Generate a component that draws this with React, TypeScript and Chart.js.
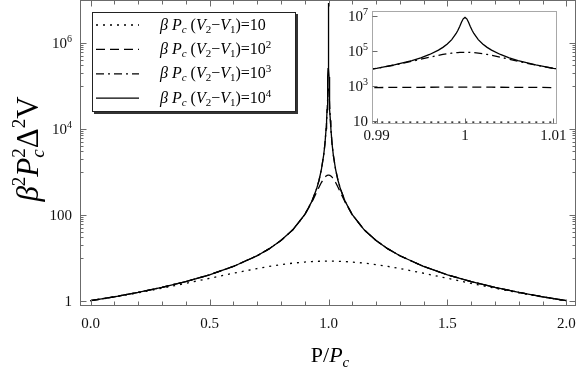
import React, { useEffect, useRef } from "react";
import { Chart, registerables } from "chart.js";
Chart.register(...registerables);

// ---------- data ----------
const xs = [0, 0.1, 0.2, 0.3, 0.4, 0.5, 0.6, 0.7, 0.75, 0.8, 0.85, 0.9, 0.93, 0.95, 0.96, 0.97, 0.98, 0.985, 0.99, 0.992, 0.994, 0.995, 0.996, 0.997, 0.9975, 0.998, 0.9985, 0.999, 0.9992, 0.9994, 0.9996, 0.9998,
  1,
  1.0002, 1.0004, 1.0006, 1.0008, 1.001, 1.0015, 1.002, 1.0025, 1.003, 1.004, 1.005, 1.006, 1.008, 1.01, 1.015, 1.02, 1.03, 1.04, 1.05, 1.07, 1.1, 1.15, 1.2, 1.25, 1.3, 1.4, 1.5, 1.6, 1.7, 1.8, 1.9, 2];

const s10 = [0.9955, 1.222, 1.529, 1.949, 2.529, 3.317, 4.349, 5.597, 6.258, 6.898, 7.473, 7.933, 8.133, 8.230, 8.267, 8.296, 8.317, 8.324, 8.329, 8.331, 8.332, 8.332, 8.333, 8.333, 8.333, 8.333, 8.333, 8.333, 8.333, 8.333, 8.333, 8.333,
  8.333,
  8.333, 8.333, 8.333, 8.333, 8.333, 8.333, 8.333, 8.333, 8.333, 8.333, 8.332, 8.332, 8.331, 8.329, 8.324, 8.317, 8.296, 8.267, 8.230, 8.133, 7.933, 7.473, 6.898, 6.258, 5.597, 4.349, 3.317, 2.529, 1.949, 1.529, 1.222, 0.9955];

const s100 = [1, 1.2346, 1.5625, 2.0408, 2.7778, 4, 6.25, 11.111, 16, 25, 44.44, 99.55, 194.9, 331.7, 434.9, 559.7, 689.8, 747.3, 793.3, 807.3, 818.5, 822.9, 826.7, 829.6, 830.7, 831.7, 832.4, 832.9, 833.1, 833.2, 833.3, 833.3,
  833.3,
  833.3, 833.3, 833.2, 833.1, 832.9, 832.4, 831.7, 830.7, 829.6, 826.7, 822.9, 818.5, 807.3, 793.3, 747.3, 689.8, 559.7, 434.9, 331.7, 194.9, 99.55, 44.44, 25, 16, 11.111, 6.25, 4, 2.7778, 2.0408, 1.5625, 1.2346, 1];

const s1000 = [1, 1.2346, 1.5625, 2.0408, 2.7778, 4, 6.25, 11.111, 16, 25, 44.44, 100, 204.08, 400, 625, 1111.1, 2500, 4444.1, 9954.6, 15289, 25287, 33170, 43495, 55970, 62577, 68985, 74730, 79327, 80734, 81855, 82667, 83167,
  83333,
  83167, 82667, 81855, 80734, 79327, 74730, 68985, 62577, 55970, 43495, 33170, 25287, 15289, 9954.6, 4444.1, 2500, 1111.1, 625, 400, 204.08, 100, 44.44, 25, 16, 11.111, 6.25, 4, 2.7778, 2.0408, 1.5625, 1.2346, 1];

const s10000 = [1, 1.2346, 1.5625, 2.0408, 2.7778, 4, 6.25, 11.111, 16, 25, 44.444, 100, 204.08, 400, 625, 1111.1, 2500, 4444.4, 10000, 15625, 27778, 40000, 62500, 111111, 160000, 250000, 444414, 995460, 1528900, 2528700, 4349500, 6898500,
  8333300,
  6898500, 4349500, 2528700, 1528900, 995460, 444414, 250000, 160000, 111111, 62500, 40000, 27778, 15625, 10000, 4444.4, 2500, 1111.1, 625, 400, 204.08, 100, 44.444, 25, 16, 11.111, 6.25, 4, 2.7778, 2.0408, 1.5625, 1.2346, 1];

const seriesExponents = ["", "2", "3", "4"];

// main axes ticks
const xTickValues = [0, 0.5, 1, 1.5, 2];
const xTickLabels = ["0.0", "0.5", "1.0", "1.5", "2.0"];
const xMinorTickValues = [0.1, 0.2, 0.3, 0.4, 0.6, 0.7, 0.8, 0.9, 1.1, 1.2, 1.3, 1.4, 1.6, 1.7, 1.8, 1.9];
const yTickValues = [1, 100, 1e4, 1e6];
const yTickBases = ["1", "100", "10", "10"];
const yTickExps = ["", "", "4", "6"];
const yMinorTickValues = [10, 20, 30, 40, 50, 60, 70, 80, 90, 1000, 2000, 3000, 4000, 5000, 6000, 7000, 8000, 9000, 1e5, 2e5, 3e5, 4e5, 5e5, 6e5, 7e5, 8e5, 9e5];

// inset ticks
const insetXTickValues = [0.99, 1, 1.01];
const insetXTickLabels = ["0.99", "1", "1.01"];
const insetYTickValues = [10, 1e3, 1e5, 1e7];
const insetYTickBases = ["10", "10", "10", "10"];
const insetYTickExps = ["", "3", "5", "7"];

// ---------- styles ----------
const SERIF = '"Liberation Serif", "Times New Roman", serif';
const FRAME = "#6b6b6b";
const INSET_FRAME = "#a8a8a8";
const DASHES = [[2, 5], [9, 5], [8, 4, 2, 4], []];

type Seg = { t: string; size: number; italic?: boolean; dy?: number; back?: boolean };

function segFont(s: Seg) {
  return `${s.italic ? "italic " : ""}${s.size}px ${SERIF}`;
}

function drawRich(ctx: CanvasRenderingContext2D, segs: Seg[], x: number, y: number, align: "left" | "center" | "right") {
  let w = 0;
  let prev = 0;
  const widths: number[] = [];
  for (const s of segs) {
    ctx.font = segFont(s);
    const sw = ctx.measureText(s.t).width;
    widths.push(sw);
    if (s.back) w += Math.max(0, sw - prev);
    else w += sw;
    prev = sw;
  }
  let cx = align === "left" ? x : align === "center" ? x - w / 2 : x - w;
  ctx.textAlign = "left";
  ctx.textBaseline = "alphabetic";
  prev = 0;
  segs.forEach((s, i) => {
    ctx.font = segFont(s);
    if (s.back) cx -= prev;
    ctx.fillText(s.t, cx, y + (s.dy || 0));
    cx += widths[i];
    if (s.back && widths[i] < prev) cx += prev - widths[i];
    prev = widths[i];
  });
}

function tickLabelSegs(base: string, exp: string, size: number): Seg[] {
  const segs: Seg[] = [{ t: base, size }];
  if (exp) segs.push({ t: exp, size: Math.round(size * 0.68), dy: -6 });
  return segs;
}

function legendSegs(exp: string): Seg[] {
  const S = 16, s = 11;
  const segs: Seg[] = [
    { t: "\u03B2", size: S, italic: true },
    { t: " ", size: S },
    { t: "P", size: S, italic: true },
    { t: "c", size: s, italic: true, dy: 3 },
    { t: " (", size: S },
    { t: "V", size: S, italic: true },
    { t: "2", size: s, dy: 3 },
    { t: "\u2212", size: S },
    { t: "V", size: S, italic: true },
    { t: "1", size: s, dy: 3 },
    { t: ")=10", size: S },
  ];
  if (exp) segs.push({ t: exp, size: s, dy: -6 });
  return segs;
}

const mainDeco = {
  id: "mainDeco",
  afterDatasetsDraw(chart: any) {
    const { ctx, chartArea: a, scales } = chart;
    const sx = scales.x, sy = scales.y;
    ctx.save();
    const L = Math.round(a.left) - 0.5, R = Math.round(a.right) - 0.5;
    const T = Math.round(a.top) + 0.5, B = Math.round(a.bottom) - 0.5;
    ctx.strokeStyle = FRAME;
    ctx.lineWidth = 1;
    ctx.setLineDash([]);
    ctx.strokeRect(L, T, R - L, B - T);
    ctx.beginPath();
    const vtick = (v: number, len: number) => {
      const p = Math.round(sx.getPixelForValue(v)) + 0.5;
      ctx.moveTo(p, B); ctx.lineTo(p, B - len);
      ctx.moveTo(p, T); ctx.lineTo(p, T + len);
    };
    xTickValues.forEach(v => vtick(v, 6));
    xMinorTickValues.forEach(v => vtick(v, 4));
    const htick = (v: number, len: number) => {
      const p = Math.round(sy.getPixelForValue(v)) + 0.5;
      ctx.moveTo(L, p); ctx.lineTo(L + len, p);
      ctx.moveTo(R, p); ctx.lineTo(R - len, p);
    };
    yTickValues.forEach(v => htick(v, 6));
    yMinorTickValues.forEach(v => htick(v, 3));
    ctx.stroke();

    // tick labels
    ctx.fillStyle = "#111";
    xTickValues.forEach((v, i) => {
      drawRich(ctx, [{ t: xTickLabels[i], size: 15 }], sx.getPixelForValue(v), 328, "center");
    });
    yTickValues.forEach((v, i) => {
      drawRich(ctx, tickLabelSegs(yTickBases[i], yTickExps[i], 15), 72, sy.getPixelForValue(v) + 5, "right");
    });

    // axis titles
    ctx.fillStyle = "#000";
    drawRich(ctx, [
      { t: "P/", size: 22 },
      { t: "P", size: 22, italic: true },
      { t: "c", size: 15, italic: true, dy: 5 },
    ], 330, 362, "center");

    ctx.save();
    ctx.translate(38, 149);
    ctx.rotate(-Math.PI / 2);
    drawRich(ctx, [
      { t: "\u03B2", size: 31, italic: true },
      { t: "2", size: 19, dy: -13 },
      { t: "P", size: 31, italic: true },
      { t: "2", size: 19, dy: -13 },
      { t: "c", size: 19, italic: true, dy: 6, back: true },
      { t: "\u0394", size: 31 },
      { t: "2", size: 19, dy: -13 },
      { t: "V", size: 31 },
    ], 0, 0, "center");
    ctx.restore();

    // legend
    const bx = 92, by = 12, bw = 204, bh = 100;
    ctx.fillStyle = "#333";
    ctx.fillRect(bx + 2, by + 2, bw, bh);
    ctx.fillStyle = "#fff";
    ctx.fillRect(bx, by, bw, bh);
    ctx.strokeStyle = "#222";
    ctx.lineWidth = 1;
    ctx.strokeRect(bx + 0.5, by + 0.5, bw - 1, bh - 1);
    chart.data.datasets.forEach((ds: any, i: number) => {
      const ly = 25 + i * 24.4;
      ctx.strokeStyle = "#000";
      ctx.lineWidth = 1.3;
      ctx.setLineDash(DASHES[i]);
      ctx.beginPath();
      ctx.moveTo(96, ly);
      ctx.lineTo(139, ly);
      ctx.stroke();
      ctx.setLineDash([]);
      ctx.fillStyle = "#000";
      drawRich(ctx, legendSegs(seriesExponents[i]), 160, ly + 4.5, "left");
    });
    ctx.restore();
  },
};

const insetDeco = {
  id: "insetDeco",
  beforeDatasetsDraw(chart: any) {
    const { ctx, chartArea: a } = chart;
    ctx.save();
    ctx.fillStyle = "#fff";
    ctx.fillRect(a.left, a.top, a.right - a.left, a.bottom - a.top);
    ctx.restore();
  },
  afterDatasetsDraw(chart: any) {
    const { ctx, chartArea: a, scales } = chart;
    const sx = scales.x, sy = scales.y;
    ctx.save();
    const L = Math.round(a.left) - 0.5, R = Math.round(a.right) - 0.5;
    const T = Math.round(a.top) + 0.5, B = Math.round(a.bottom) - 0.5;
    ctx.strokeStyle = INSET_FRAME;
    ctx.lineWidth = 1;
    ctx.setLineDash([]);
    ctx.strokeRect(L, T, R - L, B - T);
    ctx.strokeStyle = FRAME;
    ctx.beginPath();
    insetXTickValues.forEach(v => {
      const p = Math.round(sx.getPixelForValue(v)) + 0.5;
      ctx.moveTo(p, B); ctx.lineTo(p, B - 5);
    });
    insetYTickValues.forEach(v => {
      const p = Math.round(sy.getPixelForValue(v)) + 0.5;
      ctx.moveTo(L, p); ctx.lineTo(L + 5, p);
    });
    ctx.stroke();
    ctx.fillStyle = "#111";
    insetXTickValues.forEach((v, i) => {
      drawRich(ctx, [{ t: insetXTickLabels[i], size: 15 }], sx.getPixelForValue(v), 140, "center");
    });
    insetYTickValues.forEach((v, i) => {
      drawRich(ctx, tickLabelSegs(insetYTickBases[i], insetYTickExps[i], 15), 28, sy.getPixelForValue(v) + 5, "right");
    });
    ctx.restore();
  },
};

function makeDatasets() {
  const all = [s10, s100, s1000, s10000];
  const names = ["10", "10^2", "10^3", "10^4"];
  return all.map((arr, i) => ({
    label: "\u03B2 Pc (V2\u2212V1)=" + names[i],
    data: xs.map((x, j) => ({ x, y: arr[j] })),
    borderColor: "#000",
    backgroundColor: "#000",
    borderWidth: 1.3,
    borderDash: DASHES[i],
    pointRadius: 0,
    tension: 0,
    fill: false,
  }));
}

export default function App() {
  const mainRef = useRef<HTMLCanvasElement | null>(null);
  const insetRef = useRef<HTMLCanvasElement | null>(null);

  useEffect(() => {
    const common = {
      animation: false as const,
      responsive: false,
      devicePixelRatio: 1,
      plugins: { legend: { display: false }, tooltip: { enabled: false } },
      events: [] as any[],
    };
    const main = new Chart(mainRef.current!, {
      type: "line",
      data: { datasets: makeDatasets() as any },
      options: {
        ...common,
        layout: { padding: { left: 81, right: 5, top: 0, bottom: 67 } },
        scales: {
          x: { type: "linear", min: -0.04, max: 2.04, display: false },
          y: { type: "logarithmic", min: 0.7534, max: 9.84e6, display: false },
        },
      } as any,
      plugins: [mainDeco],
    });
    const inset = new Chart(insetRef.current!, {
      type: "line",
      data: { datasets: makeDatasets() as any },
      options: {
        ...common,
        layout: { padding: { left: 33, right: 23, top: 11, bottom: 26 } },
        scales: {
          x: { type: "linear", min: 0.9896, max: 1.0104, display: false },
          y: { type: "logarithmic", min: 6.47, max: 1.936e7, display: false },
        },
      } as any,
      plugins: [insetDeco],
    });
    return () => {
      main.destroy();
      inset.destroy();
    };
  }, []);

  return (
    <div style={{ position: "fixed", left: 0, top: 0, width: 581, height: 373, background: "#fff" }}>
      <canvas ref={mainRef} width={581} height={373} style={{ position: "absolute", left: 0, top: 0, width: 581, height: 373 }} />
      <canvas ref={insetRef} width={240} height={150} style={{ position: "absolute", left: 340, top: 0, width: 240, height: 150 }} />
    </div>
  );
}
